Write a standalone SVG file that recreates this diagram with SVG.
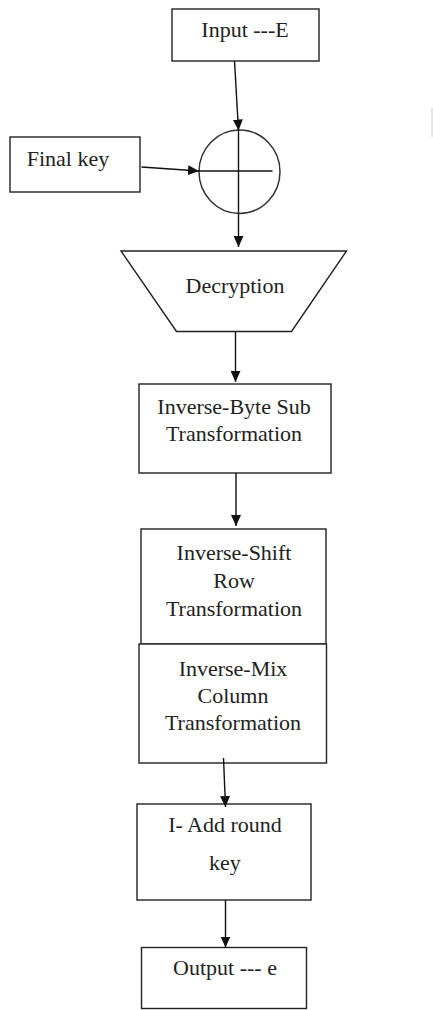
<svg xmlns="http://www.w3.org/2000/svg" width="433" height="1010" viewBox="0 0 433 1010">
<defs>
<marker id="ah" markerWidth="12" markerHeight="10" refX="11" refY="5" orient="auto" markerUnits="userSpaceOnUse">
<path d="M0,0 L11,5 L0,10 Z" fill="#111"/>
</marker>
<style>
.box{fill:#fff;stroke:#222;stroke-width:1.4}
.t{font-family:"Liberation Serif","Times New Roman",serif;font-size:22px;fill:#222;text-anchor:middle}
.c{stroke:#111;stroke-width:1.4;fill:none}
</style>
</defs>
<rect width="433" height="1010" fill="#fff"/>
<line x1="432" y1="108" x2="432" y2="137" stroke="#ccc" stroke-width="1"/>
<g id="input">
<rect class="box" x="172" y="9" width="147" height="52"/>
<text class="t" x="245" y="37">Input ---E</text>
</g>
<g id="finalkey">
<rect class="box" x="10" y="137" width="130" height="55"/>
<text class="t" x="68" y="166">Final key</text>
</g>
<g id="xor">
<ellipse cx="239.5" cy="171.7" rx="40.5" ry="41.7" fill="none" stroke="#333" stroke-width="1.5"/>
<line class="c" x1="199" y1="171" x2="272.5" y2="171"/>
<line class="c" x1="238.5" y1="130" x2="238.5" y2="213"/>
</g>
<g id="decryption">
<polygon class="box" points="121,251 346.5,251 291.5,331.5 176.5,331.5"/>
<text class="t" x="235" y="293">Decryption</text>
</g>
<g id="invbyte">
<rect class="box" x="139" y="384" width="192" height="89"/>
<text class="t" x="234" y="414">Inverse-Byte Sub</text>
<text class="t" x="234" y="441">Transformation</text>
</g>
<g id="invshift">
<rect class="box" x="141" y="529" width="185" height="115"/>
<text class="t" x="234" y="560">Inverse-Shift</text>
<text class="t" x="234" y="588">Row</text>
<text class="t" x="234" y="616">Transformation</text>
</g>
<g id="invmix">
<rect class="box" x="139" y="644" width="187.5" height="119"/>
<text class="t" x="233" y="676">Inverse-Mix</text>
<text class="t" x="233" y="703">Column</text>
<text class="t" x="233" y="730">Transformation</text>
</g>
<g id="addround">
<rect class="box" x="137" y="804" width="174" height="96"/>
<text class="t" x="225" y="832">I- Add round</text>
<text class="t" x="225" y="870">key</text>
</g>
<g id="output">
<rect class="box" x="141.5" y="947.5" width="165" height="61"/>
<text class="t" x="225" y="975">Output --- e</text>
</g>
<g id="connectors">
<line class="c" x1="234.5" y1="61" x2="238.5" y2="130.5" marker-end="url(#ah)"/>
<line class="c" x1="141.5" y1="167" x2="199" y2="171" marker-end="url(#ah)"/>
<line class="c" x1="238.5" y1="213" x2="238.5" y2="247" marker-end="url(#ah)"/>
<line class="c" x1="235.5" y1="332" x2="235.5" y2="382" marker-end="url(#ah)"/>
<line class="c" x1="236" y1="473" x2="236" y2="526" marker-end="url(#ah)"/>
<line class="c" x1="223.5" y1="758" x2="225.5" y2="807" marker-end="url(#ah)"/>
<line class="c" x1="225.5" y1="900" x2="225.5" y2="947.5" marker-end="url(#ah)"/>
</g>
</svg>
